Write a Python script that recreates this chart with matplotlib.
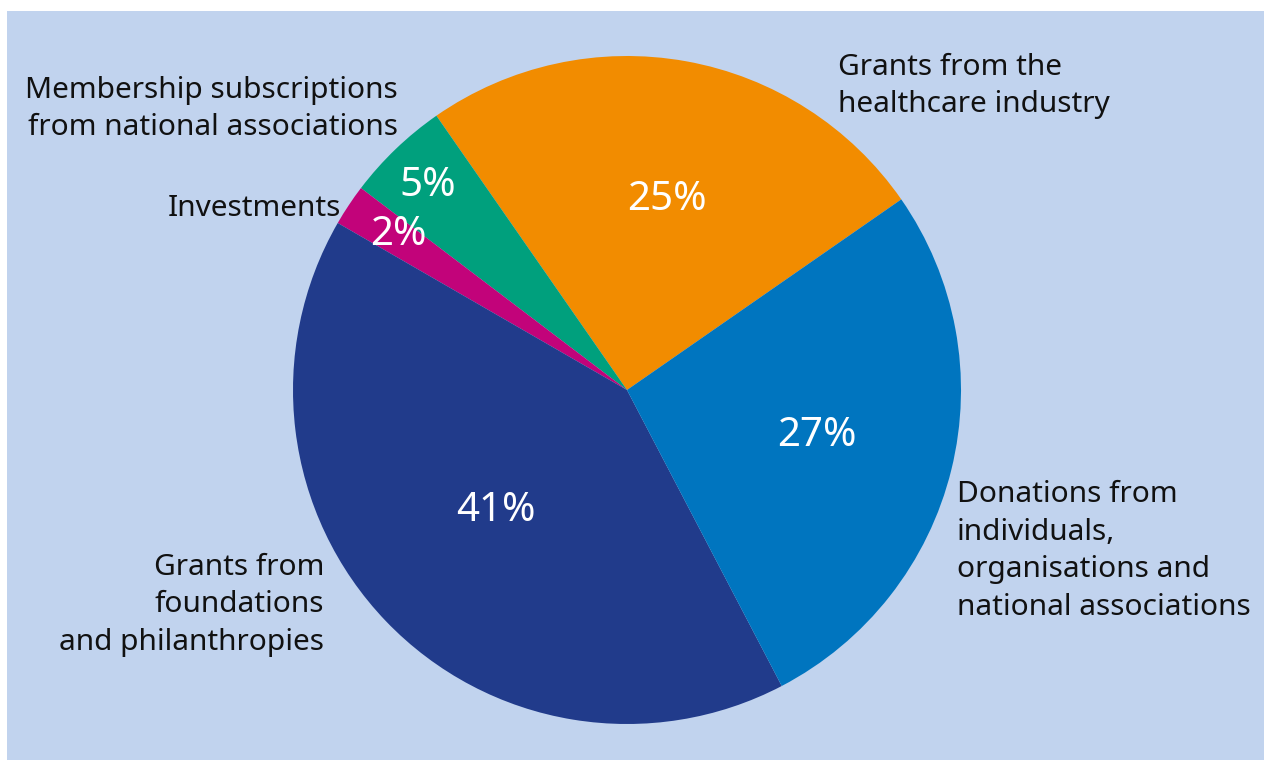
import matplotlib
matplotlib.use("Agg")
import matplotlib.pyplot as plt
from matplotlib.patches import Rectangle

# Data
categories = ["Grants from the\nhealthcare industry",
              "Membership subscriptions\nfrom national associations",
              "Investments",
              "Grants from\nfoundations\nand philanthropies",
              "Donations from\nindividuals,\norganisations and\nnational associations"]
values = [25, 5, 2, 41, 27]
pct_labels = ["25%", "5%", "2%", "41%", "27%"]
colors = ["#F28C00", "#00A07D", "#C2037A", "#213B8B", "#0075BF"]

plt.rcParams['font.family'] = ['Noto Sans', 'DejaVu Sans']

W, H = 1264, 760
fig = plt.figure(figsize=(W / 100, H / 100), dpi=100)
fig.patch.set_facecolor("white")
ax = fig.add_axes([0, 0, 1, 1])

ax.add_patch(Rectangle((7, 11), W - 7, H - 11, facecolor="#C1D3EE", edgecolor="none", zorder=0))

cx, cy, R = 627, 390, 334
# y axis is inverted (pixel coordinates), so angles are mirrored
wedges, _ = ax.pie(values, colors=colors, startangle=-34.8, counterclock=False,
                   center=(cx, cy), radius=R, frame=True,
                   wedgeprops=dict(linewidth=0, zorder=1))
ax.set_xlim(0, W)
ax.set_ylim(H, 0)
ax.axis("off")

# percentage label positions (pixels)
pct_pos = [(667, 200), (428, 186), (398, 235), (496, 511), (817, 436)]
for (x, y), t in zip(pct_pos, pct_labels):
    ax.text(x, y, t, color="white", fontsize=29, ha="center", va="center", zorder=3)

# category label layout (pixels)
label_pos = [(838, 86, "left"), (398, 109, "right"), (341, 208, "right"),
             (324, 605, "right"), (957, 551, "left")]
for (x, y, ha), t in zip(label_pos, categories):
    ax.text(x, y, t, color="#111111", fontsize=21.5, ha=ha, va="center",
            multialignment=ha, linespacing=1.38, zorder=3)

fig.savefig("out.png", dpi=100, facecolor="white")
